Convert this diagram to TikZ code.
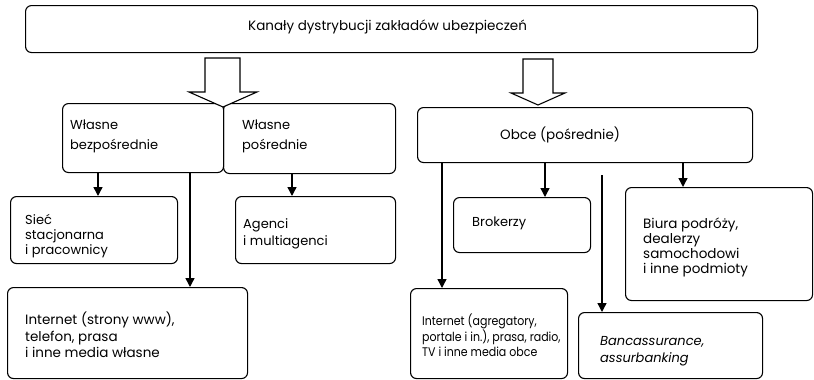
\documentclass[tikz,border=0pt]{standalone}
\usepackage{fontspec}
\setmainfont{Poppins}
\newfontfamily\narrowfont[FakeStretch=0.88]{Poppins}
\usetikzlibrary{arrows.meta}
\begin{document}
\begin{tikzpicture}[x=1pt,y=-1pt,
  box/.style={draw, line width=1.1pt, rounded corners=6pt, anchor=north west,
    inner sep=0pt},
  txt/.style={anchor=west, align=left, inner sep=0pt,
    font=\fontsize{13}{16.5}\selectfont},
  conn/.style={line width=1.4pt, -{Triangle[length=9pt,width=9pt]}},
  hollow/.style={draw, line width=1.1pt, fill=white, line join=miter}]
\useasboundingbox (0,0) rectangle (814,380);

% boxes
\node[box, minimum width=732pt, minimum height=47pt] (top) at (25,5) {};
\node[box, minimum width=161pt, minimum height=69pt] (bezp) at (62,103) {};
\node[box, minimum width=172pt, minimum height=70pt] (posr) at (223,103) {};
\node[box, minimum width=335pt, minimum height=55pt] (obce) at (417,107) {};
\node[box, minimum width=167pt, minimum height=67pt] (siec) at (10,196) {};
\node[box, minimum width=160pt, minimum height=67pt] (agenci) at (235,196) {};
\node[box, minimum width=137pt, minimum height=55pt] (brok) at (453,197) {};
\node[box, minimum width=187pt, minimum height=113pt] (biura) at (625,187) {};
\node[box, minimum width=240pt, minimum height=91pt] (inet1) at (7,287) {};
\node[box, minimum width=157pt, minimum height=90pt] (inet2) at (410,288) {};
\node[box, minimum width=184pt, minimum height=66pt] (banc) at (578,312) {};

% box texts
\node[txt, anchor=center, font=\fontsize{13.5}{16}\selectfont] (topT)
  at ([xshift=-4pt,yshift=2pt]top.center)
  {Kanały dystrybucji zakładów ubezpieczeń};
\node[txt, font=\fontsize{13}{20}\selectfont] (bezpT)
  at ([xshift=8pt,yshift=2pt]bezp.west) {Własne\\bezpośrednie};
\node[txt, font=\fontsize{13}{20}\selectfont] (posrT)
  at ([xshift=19pt,yshift=2pt]posr.west) {Własne\\pośrednie};
\node[txt, font=\fontsize{13.5}{16}\selectfont] (obceT)
  at ([xshift=83pt]obce.west) {Obce (pośrednie)};
\node[txt, font=\fontsize{13}{15}\selectfont] (siecT)
  at ([xshift=15pt,yshift=-6pt]siec.west) {Sieć\\stacjonarna\\i pracownicy};
\node[txt] (agenciT) at ([xshift=8pt,yshift=-4pt]agenci.west)
  {Agenci\\i multiagenci};
\node[txt] (brokT) at ([xshift=19pt,yshift=2pt]brok.west) {Brokerzy};
\node[txt, font=\fontsize{13.5}{15}\selectfont] (biuraT)
  at ([xshift=18pt,yshift=-3pt]biura.west)
  {Biura podróży,\\dealerzy\\samochodowi\\i inne podmioty};
\node[txt, font=\fontsize{13.5}{16.5}\selectfont] (inet1T)
  at ([xshift=18pt,yshift=-2pt]inet1.west)
  {Internet (strony www),\\telefon, prasa\\i inne media własne};
\node[txt, font=\narrowfont\fontsize{12.5}{15}\selectfont] (inet2T)
  at ([xshift=12pt,yshift=-2pt]inet2.west)
  {Internet (agregatory,\\portale i in.), prasa, radio,\\TV i inne media obce};
\node[txt, font=\fontsize{13}{17}\selectfont\itshape] (bancT)
  at ([xshift=22pt,yshift=-6pt]banc.west) {Bancassurance,\\assurbanking};

% wide hollow arrows from the title box
\coordinate (tipL) at (223,107);
\coordinate (tipR) at (538,105);
\draw[hollow] (tipL) -- ++(34,-15) -- ++(-17,0) -- ++(0,-34) -- ++(-35,0)
  -- ++(0,34) -- ++(-16,0) -- cycle;
\draw[hollow] (tipR) -- ++(27,-12) -- ++(-12,0) -- ++(0,-34) -- ++(-30,0)
  -- ++(0,34) -- ++(-12,0) -- cycle;

% connector columns
\coordinate (cA) at (98,0);
\coordinate (cB) at (190,0);
\coordinate (cC) at (292,0);
\coordinate (cD) at (442,0);
\coordinate (cE) at (545,0);
\coordinate (cF) at (683,0);
\coordinate (bancStart) at (602,175);

\draw[conn] (bezp.south -| cA) -- (siec.north -| cA);
\draw[conn] (bezp.south -| cB) -- (inet1.north -| cB);
\draw[conn] (posr.south -| cC) -- (agenci.north -| cC);
\draw[conn] (obce.south -| cD) -- (inet2.north -| cD);
\draw[conn] (obce.south -| cE) -- (brok.north -| cE);
\draw[conn] (obce.south -| cF) -- (biura.north -| cF);
\draw[conn] (bancStart) -- (banc.north -| bancStart);
\end{tikzpicture}
\end{document}
